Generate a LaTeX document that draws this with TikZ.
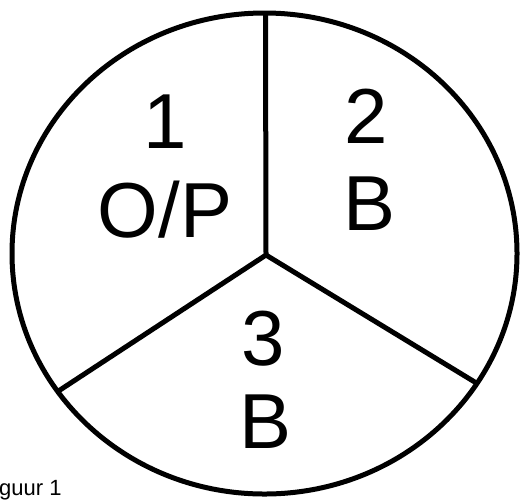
\documentclass[tikz,border=0pt]{standalone}
\usepackage{fontspec}
\setmainfont{Liberation Sans}
\begin{document}
\begin{tikzpicture}[x=1pt,y=-1pt,
  big/.style={font=\fontsize{78}{78}\selectfont, inner sep=0pt, anchor=base},
  small/.style={font=\fontsize{22}{22}\selectfont, inner sep=0pt, anchor=base west},
  rim/.style={line width=5pt},
  spoke/.style={line width=5pt}]
\useasboundingbox (0,0) rectangle (521,499);
\coordinate (c) at (264.5,253.5);
\draw[rim] (c) ellipse [x radius=252.5, y radius=240.5];
\coordinate (j) at (266,255);
\coordinate (top) at (265.5,13);
\coordinate (ll) at (57.7,391.5);
\coordinate (lr) at (478,384);
\draw[spoke] (j) -- (top);
\draw[spoke] (j) -- (ll);
\draw[spoke] (j) -- (lr);
\node[big] (n1) at (165,148) {1};
\node[big] (t1) at (165,237) {O/P};
\node[big] (n2) at (366,143) {2};
\node[big] (t2) at (370,230) {B};
\node[big] (n3) at (263,365) {3};
\node[big] (t3) at (266,448) {B};
\node[small] (fig) at (-1,495) {guur 1};
\end{tikzpicture}
\end{document}
